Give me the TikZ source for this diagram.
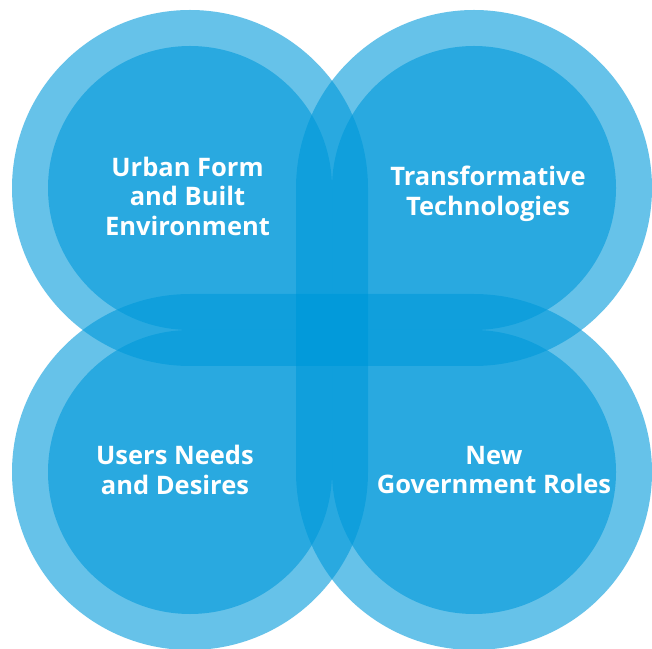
\documentclass[tikz,border=0pt]{standalone}
\usepackage{fontspec}
\setmainfont{Open Sans}
\usetikzlibrary{calc}
\definecolor{petalblue}{RGB}{0,153,218}

\begin{document}
\begin{tikzpicture}[x=1pt,y=1pt,
  petal/.style={fill=petalblue,fill opacity=0.6},
  petaltext/.style={text=white,align=center,font=\bfseries\fontsize{25.5}{29.5}\selectfont}]
\useasboundingbox (0,0) rectangle (652,648);

% four petals, each an outer ring and an inner disc with one square corner
\foreach \cx/\cy/\ang in {190/460/315, 474/460/225, 190/176/45, 474/176/135}{
  \foreach \rad in {178,142}{
    \fill[petal] ($(\cx,\cy)+(\ang:{\rad*1.41421})$) -- ($(\cx,\cy)+(\ang+45:\rad)$)
      arc[start angle=\ang+45, delta angle=270, radius=\rad] -- cycle;
  }
}

\node[petaltext] (urban) at (187.5,452) {Urban Form\\and Built\\Environment};
\node[petaltext] (tech)  at (488,454) {Transformative\\Technologies};
\node[petaltext] (users) at (175,178) {Users Needs\\and Desires};
\node[petaltext] (gov)   at (494,178) {New\\Government Roles};
\end{tikzpicture}
\end{document}
